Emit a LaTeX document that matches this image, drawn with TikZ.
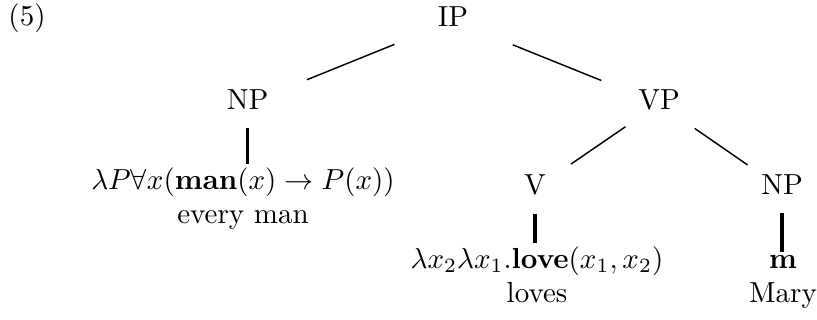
\documentclass[tikz,border=0pt]{standalone}
\usepackage{amsmath, amssymb}
\usepackage{tikz}
\usetikzlibrary{calc}

\begin{document}
\begin{tikzpicture}[x=0.3448pt,y=0.3448pt,
    cat/.style={anchor=base,inner sep=0pt},
    lex/.style={anchor=base,inner sep=0pt,align=center},
    branch/.style={line width=0.5pt},
    lexline/.style={line width=1.1pt,shorten <=6pt,shorten >=1pt}]
    \useasboundingbox (0,0) rectangle (817,320);

    \node[cat] (ex) at (27,294) {(5)};

    % categories
    \node[cat] (ip)  at (453,293)   {IP};
    \node[cat] (np1) at (247.5,210) {NP};
    \node[cat] (vp)  at (659,210)   {VP};
    \node[cat] (v)   at (535,125)   {V};
    \node[cat] (np2) at (782,125)   {NP};

    % translations and words
    \node[lex] (nplex)  at (243,96)
        {\(\lambda P\forall x(\mathbf{man}(x)\to P(x))\)\\every man};
    \node[lex] (vlex)   at (537,17)
        {\(\lambda x_2\lambda x_1\mathbf{.love}(x_1,x_2)\)\\loves};
    \node[lex] (np2lex) at (783,17)
        {\(\mathbf{m}\)\\Mary};

    \draw[branch] ($(ip.mid)!0.285!(np1.mid)$) -- ($(ip.mid)!0.71!(np1.mid)$);
    \draw[branch] ($(ip.mid)!0.29!(vp.mid)$) -- ($(ip.mid)!0.72!(vp.mid)$);
    \draw[branch] ($(vp.mid)!0.27!(v.mid)$) -- ($(vp.mid)!0.71!(v.mid)$);
    \draw[branch] ($(vp.mid)!0.29!(np2.mid)$) -- ($(vp.mid)!0.72!(np2.mid)$);

    \draw[lexline] (np1.south) -- (np1.south |- nplex.north);
    \draw[lexline] (v.south) -- (v.south |- vlex.north);
    \draw[lexline] (np2.south) -- (np2.south |- np2lex.north);
\end{tikzpicture}
\end{document}
